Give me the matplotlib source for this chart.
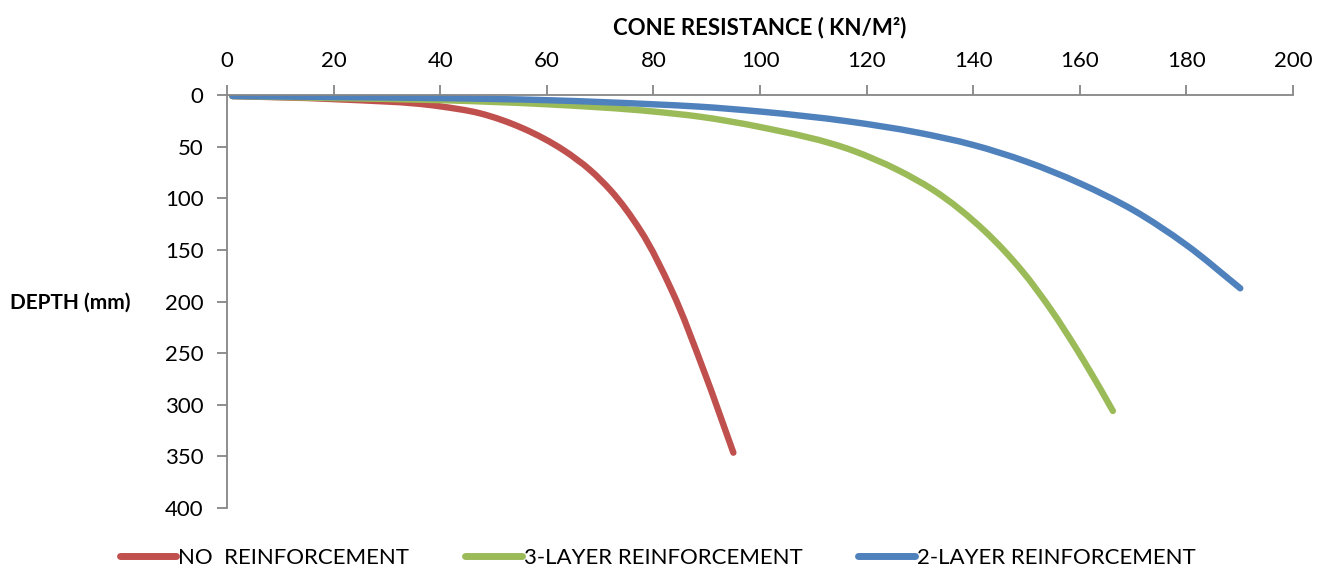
import matplotlib
matplotlib.use('Agg')
import matplotlib.pyplot as plt
from matplotlib.path import Path
from matplotlib.patches import PathPatch
from matplotlib.lines import Line2D
import numpy as np

plt.rcParams['font.family'] = ['Lato', 'DejaVu Sans']

# Cone resistance (kN/m2) vs depth (mm) for each test bed
no_reinf_q = [1, 20, 40, 47.5, 55.6, 63.1, 68.1, 71.9, 77.5, 83.4, 89.4, 95]
no_reinf_d = [1, 4, 11, 17.8, 32.5, 53.3, 72.6, 92, 130.7, 188.9, 266.3, 346.4]

three_layer_q = [1, 20, 40, 60, 80, 88.7, 100, 117.5, 125.6, 132.5, 142.0, 149.1, 154.6, 159.5, 164.0, 166.2]
three_layer_d = [1, 3, 5, 9, 16, 21, 31, 54, 72, 92, 131, 170, 208, 247, 286, 306]

two_layer_q = [1, 20, 40, 60, 80, 88.7, 100, 116.9, 129.4, 140, 150, 160, 170, 180, 190.1]
two_layer_d = [1, 2, 3, 5, 9, 11.3, 16, 25.8, 36.2, 48.4, 64.6, 85.5, 111.4, 145.3, 187.2]

series_labels = ['NO  REINFORCEMENT', '3-LAYER REINFORCEMENT', '2-LAYER REINFORCEMENT']
series_colors = ['#C0504D', '#9BBB59', '#4F81BD']

x_ticks = list(range(0, 201, 20))
y_ticks = list(range(0, 401, 50))


def smooth_path(ax, xs, ys):
    # smoothed line through the points: cubic Bezier segments, tangent at
    # each point from the parabola through it and its two neighbours
    to_disp = ax.transData
    pts = to_disp.transform(np.column_stack([xs, ys]).astype(float))
    n = len(pts)
    seg = np.diff(pts, axis=0)
    length = np.hypot(seg[:, 0], seg[:, 1])
    unit = seg / length[:, None]
    tang = np.zeros_like(pts)
    tang[0] = unit[0]
    tang[-1] = unit[-1]
    for i in range(1, n - 1):
        l0, l1 = length[i - 1], length[i]
        v = (unit[i - 1] * l1 + unit[i] * l0) / (l0 + l1)
        tang[i] = v / np.hypot(*v)
    verts = [pts[0]]
    codes = [Path.MOVETO]
    for i in range(n - 1):
        h = length[i] / 3.0
        verts += [pts[i] + tang[i] * h, pts[i + 1] - tang[i + 1] * h, pts[i + 1]]
        codes += [Path.CURVE4] * 3
    verts = to_disp.inverted().transform(np.array(verts))
    return Path(verts, codes)


fig = plt.figure(figsize=(13.3, 5.73), dpi=100)
ax = fig.add_axes([0.1707, 0.1134, 0.8015, 0.7208])
ax.set_xlim(0, 200)
ax.set_ylim(400, 0)

data = [(no_reinf_q, no_reinf_d), (three_layer_q, three_layer_d), (two_layer_q, two_layer_d)]
for (q, d), col in zip(data, series_colors):
    patch = PathPatch(smooth_path(ax, q, d), facecolor='none', edgecolor=col,
                      linewidth=4.6, capstyle='round', joinstyle='round')
    ax.add_patch(patch)

ax.xaxis.tick_top()
ax.set_xticks(x_ticks)
ax.set_yticks(y_ticks)

axis_gray = '#868686'
for side in ['right', 'bottom']:
    ax.spines[side].set_visible(False)
for side in ['left', 'top']:
    ax.spines[side].set_color(axis_gray)
    ax.spines[side].set_linewidth(1.3)

ax.tick_params(axis='both', direction='out', length=7, width=1.3, color=axis_gray,
               labelsize=16, labelcolor='black')
ax.tick_params(axis='x', pad=10)
ax.tick_params(axis='y', pad=10)

fig.text(0.5714, 0.952, 'CONE RESISTANCE ( KN/M²)', fontsize=16, fontweight='bold',
         ha='center', va='center')
fig.text(0.0075, 0.471, 'DEPTH (mm)', fontsize=15, fontweight='bold',
         ha='left', va='center')

handles = [Line2D([0], [0], color=c, linewidth=5, solid_capstyle='round') for c in series_colors]
fig.legend(handles, series_labels, loc='center', bbox_to_anchor=(0.4945, 0.026), ncol=3,
           frameon=False, fontsize=16, handlelength=2.55, handletextpad=0.1,
           columnspacing=2.5)

fig.savefig('out.png', dpi=100, facecolor='white')
